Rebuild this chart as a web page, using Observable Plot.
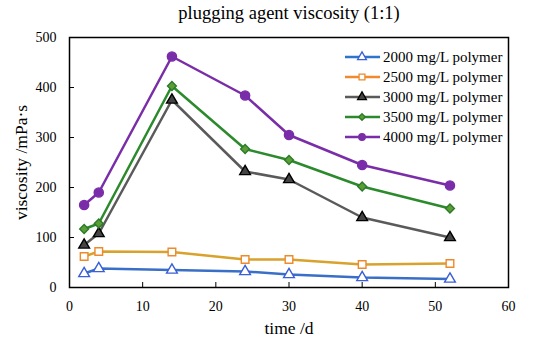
<!DOCTYPE html>
<html><head><meta charset="utf-8">
<script src="https://cdn.jsdelivr.net/npm/d3@7"></script>
<script src="https://cdn.jsdelivr.net/npm/@observablehq/plot@0.6"></script>
<style>
body{margin:0;background:#fff;font-family:"Liberation Serif","Times New Roman",serif;}
#wrap{position:relative;width:550px;height:340px;}
#legend{position:absolute;left:344px;top:47px;font-size:15px;color:#000;}
#legend .row{display:flex;align-items:center;height:20px;}
#legend svg{margin-right:1px;}
#chart svg text{font-family:"Liberation Serif","Times New Roman",serif !important;}
</style></head>
<body><div id="wrap"><div id="chart"></div><div id="legend"></div></div>
<script>
const days = [2, 4, 14, 24, 30, 40, 52];
const series = ["2000 mg/L polymer","2500 mg/L polymer","3000 mg/L polymer","3500 mg/L polymer","4000 mg/L polymer"];
const v2000 = [28, 38, 35, 32, 26, 20, 17];
const v2500 = [62, 72, 71, 56, 56, 46, 48];
const v3000 = [85, 108, 375, 232, 216, 140, 100];
const v3500 = [117, 128, 403, 277, 255, 202, 158];
const v4000 = [165, 190, 462, 384, 305, 245, 204];
const xTicks = [0,10,20,30,40,50,60];
const yTicks = [0,100,200,300,400,500];

const styles = [
  {line:"#3a6fc8", legendLine:"#2e75c9", stroke:"#3a5fd6", fill:"#fff", symbol:"triangle", r:4},
  {line:"#d9a22c", legendLine:"#f08a2c", stroke:"#ec8a2c", fill:"#fff", symbol:"square", r:4.3},
  {line:"#5a5a5a", legendLine:"#5a5a5a", stroke:"#000", fill:"#444", symbol:"triangle", r:4},
  {line:"#2b8a2b", legendLine:"#2b8a2b", stroke:"#2a7a2a", fill:"#5a9e34", symbol:"diamond2", r:4},
  {line:"#7a2da8", legendLine:"#7a2da8", stroke:"#7a2da8", fill:"#7a2da8", symbol:"circle", r:4.6}
];
const values = [v2000, v2500, v3000, v3500, v4000];
const data = series.map((s,i)=>days.map((d,j)=>({series:s, day:d, v:values[i][j]})));

const marks = [];
data.forEach((rows,i)=>{
  marks.push(Plot.line(rows,{x:"day",y:"v",stroke:styles[i].line,strokeWidth:2.5}));
});
data.forEach((rows,i)=>{
  marks.push(Plot.dot(rows,{x:"day",y:"v",symbol:()=>styles[i].symbol,r:styles[i].r,fill:styles[i].fill,stroke:styles[i].stroke,strokeWidth:1.4}));
});
marks.push(Plot.frame({stroke:"#000",strokeWidth:1.5}));
marks.push(Plot.text(["plugging agent viscosity (1:1)"],{frameAnchor:"top",dy:-22,fontSize:18.5,fill:"#000"}));

const chart = Plot.plot({
  width:550, height:340,
  marginLeft:69, marginRight:42, marginTop:37, marginBottom:53,
  style:{fontFamily:"Liberation Serif, Times New Roman, serif", fontSize:"14px", background:"#fff", color:"#000"},
  symbol:{type:"identity"},
  x:{domain:[0,60], ticks:xTicks, tickSize:-5, tickPadding:19, label:"time /d", labelArrow:false, labelAnchor:"center", labelOffset:46, line:false},
  y:{domain:[0,500], ticks:yTicks, tickSize:-5, tickPadding:18, label:"viscosity /mPa·s", labelArrow:false, labelAnchor:"center", labelOffset:55, line:false},
  marks
});
chart.querySelectorAll('[aria-label="x-axis label"] text, [aria-label="y-axis label"] text').forEach(t=>t.style.fontSize="17.5px");
chart.querySelectorAll('text').forEach(t=>{ if(t.textContent==="plugging agent viscosity (1:1)") t.setAttribute("dy", "-0.5em"); });
document.getElementById("chart").appendChild(chart);

const leg = document.getElementById("legend");
series.forEach((s,i)=>{
  const st = styles[i];
  const row = document.createElement("div"); row.className="row";
  const sv = d3.create("svg").attr("width",38).attr("height",16);
  sv.append("line").attr("x1",1).attr("x2",36).attr("y1",8).attr("y2",8).attr("stroke",st.legendLine).attr("stroke-width",2.5);
  const symMap = {triangle:d3.symbolTriangle, square:d3.symbolSquare, diamond2:d3.symbolDiamond2, circle:d3.symbolCircle};
  const size = st.symbol==="diamond2" ? 28 : 34;
  sv.append("path").attr("d",d3.symbol(symMap[st.symbol], size)()).attr("transform","translate(18,8)")
    .attr("fill",st.fill).attr("stroke",st.stroke).attr("stroke-width",1.3);
  row.appendChild(sv.node());
  const t = document.createElement("span"); t.textContent=s; row.appendChild(t);
  leg.appendChild(row);
});
</script></body></html>
